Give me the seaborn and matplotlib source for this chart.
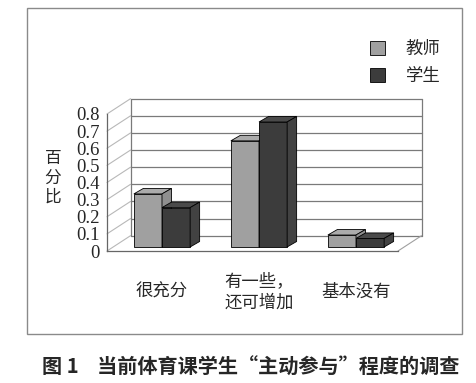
import matplotlib.pyplot as plt
import pandas as pd
import seaborn as sns
from matplotlib.patches import Polygon, Rectangle
from matplotlib.transforms import ScaledTranslation

# 数据
categories = ['很充分', '有一些，\n还可增加', '基本没有']
groups = ['教师', '学生']
teacher = [0.31, 0.62, 0.07]
student = [0.23, 0.73, 0.05]
y_ticks = [0, 0.1, 0.2, 0.3, 0.4, 0.5, 0.6, 0.7, 0.8]
y_tick_labels = ['0', '0.1', '0.2', '0.3', '0.4', '0.5', '0.6', '0.7', '0.8']
caption = '图 1    当前体育课学生“主动参与”程度的调查'

front_colors = ['#a0a0a0', '#3c3c3c']
top_colors = ['#ababab', '#4a4a4a']
side_colors = ['#8f8f8f', '#424242']

W, H, DPI = 476, 383, 100


def add_wall(ax, wx, wy):
    """
    绘制背景墙与左侧墙的网格线
    """
    for v in y_ticks:
        ax.plot([-0.5 + wx, 2.5 + wx], [v + wy, v + wy], color='#7a7a7a',
                lw=0.9, zorder=0.5, clip_on=False)
        ax.plot([-0.5, -0.5 + wx], [v, v + wy], color='#b8b8b8',
                lw=0.8, zorder=0.5, clip_on=False)
    for xe in (-0.5 + wx, 2.5 + wx):
        ax.plot([xe, xe], [wy, 0.8 + wy], color='#7a7a7a', lw=0.9,
                zorder=0.5, clip_on=False)
    ax.plot([2.5, 2.5 + wx], [0, wy], color='#a0a0a0', lw=0.8,
            zorder=0.5, clip_on=False)


def make_3d_bars(ax, fx, fy, dx, dy):
    """
    给柱子加上顶面和侧面
    """
    items = []
    for k, container in enumerate(ax.containers):
        for bar in container:
            items.append((bar, k))
    items.sort(key=lambda t: t[0].get_x())
    for i, (bar, k) in enumerate(items):
        x0 = bar.get_x() + fx
        w = bar.get_width()
        h = bar.get_height()
        y0 = fy
        z = 2 + i
        bar.set_x(x0)
        bar.set_y(y0)
        bar.set_zorder(z)
        bar.set_clip_on(False)
        top = [(x0, y0 + h), (x0 + w, y0 + h),
               (x0 + w + dx, y0 + h + dy), (x0 + dx, y0 + h + dy)]
        side = [(x0 + w, y0), (x0 + w + dx, y0 + dy),
                (x0 + w + dx, y0 + h + dy), (x0 + w, y0 + h)]
        ax.add_patch(Polygon(top, closed=True, fc=top_colors[k], ec='black',
                             lw=0.6, zorder=z, clip_on=False))
        ax.add_patch(Polygon(side, closed=True, fc=side_colors[k], ec='black',
                             lw=0.6, zorder=z, clip_on=False))


if __name__ == '__main__':
    sns.set_style('white')
    plt.rcParams['font.family'] = ['Noto Sans CJK SC', 'DejaVu Sans']

    df = pd.DataFrame({
        '程度': categories * 2,
        '对象': [g for g in groups for _ in categories],
        '百分比': teacher + student,
    })

    fig = plt.figure(figsize=(W / DPI, H / DPI), dpi=DPI)
    fig.add_artist(Rectangle((27 / W, 1 - 334 / H), 435 / W, 326 / H,
                             transform=fig.transFigure, fill=False,
                             ec='#8a8a8a', lw=1))
    ax = fig.add_axes([107 / W, 1 - 251 / H, 291 / W, 137 / H])

    sns.barplot(data=df, x='程度', y='百分比', hue='对象', hue_order=groups,
                order=categories, palette=front_colors, width=0.58, gap=0,
                saturation=1, edgecolor='black', linewidth=0.6,
                errorbar=None, legend=False, ax=ax)
    ax.set_xlim(-0.5, 2.5)
    ax.set_ylim(0, 0.8)

    # 像素偏移换算成数据单位
    sx = ax.bbox.width / 3
    sy = ax.bbox.height / 0.8
    add_wall(ax, 23.5 / sx, 15.3 / sy)
    make_3d_bars(ax, 6.5 / sx, 4 / sy, 9.5 / sx, 5.5 / sy)

    for s in ('top', 'right'):
        ax.spines[s].set_visible(False)
    for s in ('left', 'bottom'):
        ax.spines[s].set_color('#666666')
        ax.spines[s].set_linewidth(0.9)

    ax.tick_params(axis='y', direction='in', length=2.5, pad=5.5,
                   color='#666666')
    ax.set_yticks(y_ticks, labels=y_tick_labels, fontfamily='Liberation Serif',
                  fontsize=13.5)
    ax.tick_params(axis='x', which='major', length=0, pad=29.5)
    ax.set_xticks([0.5, 1.5], minor=True)
    ax.tick_params(axis='x', which='minor', direction='out', length=3,
                   color='#888888')
    ax.set_xticks(range(len(categories)), labels=categories, fontsize=12.5,
                  va='center', linespacing=1.25)
    shift = ScaledTranslation(6.5 / DPI, 0, fig.dpi_scale_trans)
    for lab in ax.get_xticklabels():
        lab.set_transform(lab.get_transform() + shift)

    ax.set_xlabel('')
    ax.set_ylabel('百\n分\n比', rotation=0, fontsize=12, linespacing=1.2,
                  ha='center', va='center')
    ax.yaxis.set_label_coords(-0.1856, 0.533)

    ax.legend(ax.containers, groups, loc='upper left',
              bbox_to_anchor=(370 / W, 1 - 40 / H),
              bbox_transform=fig.transFigure, frameon=False, fontsize=12.5,
              handlelength=0.85, handleheight=0.85, handletextpad=1.2,
              labelspacing=0.5, borderpad=0, borderaxespad=0)

    fig.text(251 / W, 1 - 367 / H, caption, ha='center', va='center',
             fontsize=14.5, fontweight='bold')

    fig.savefig('out.png', dpi=DPI)
